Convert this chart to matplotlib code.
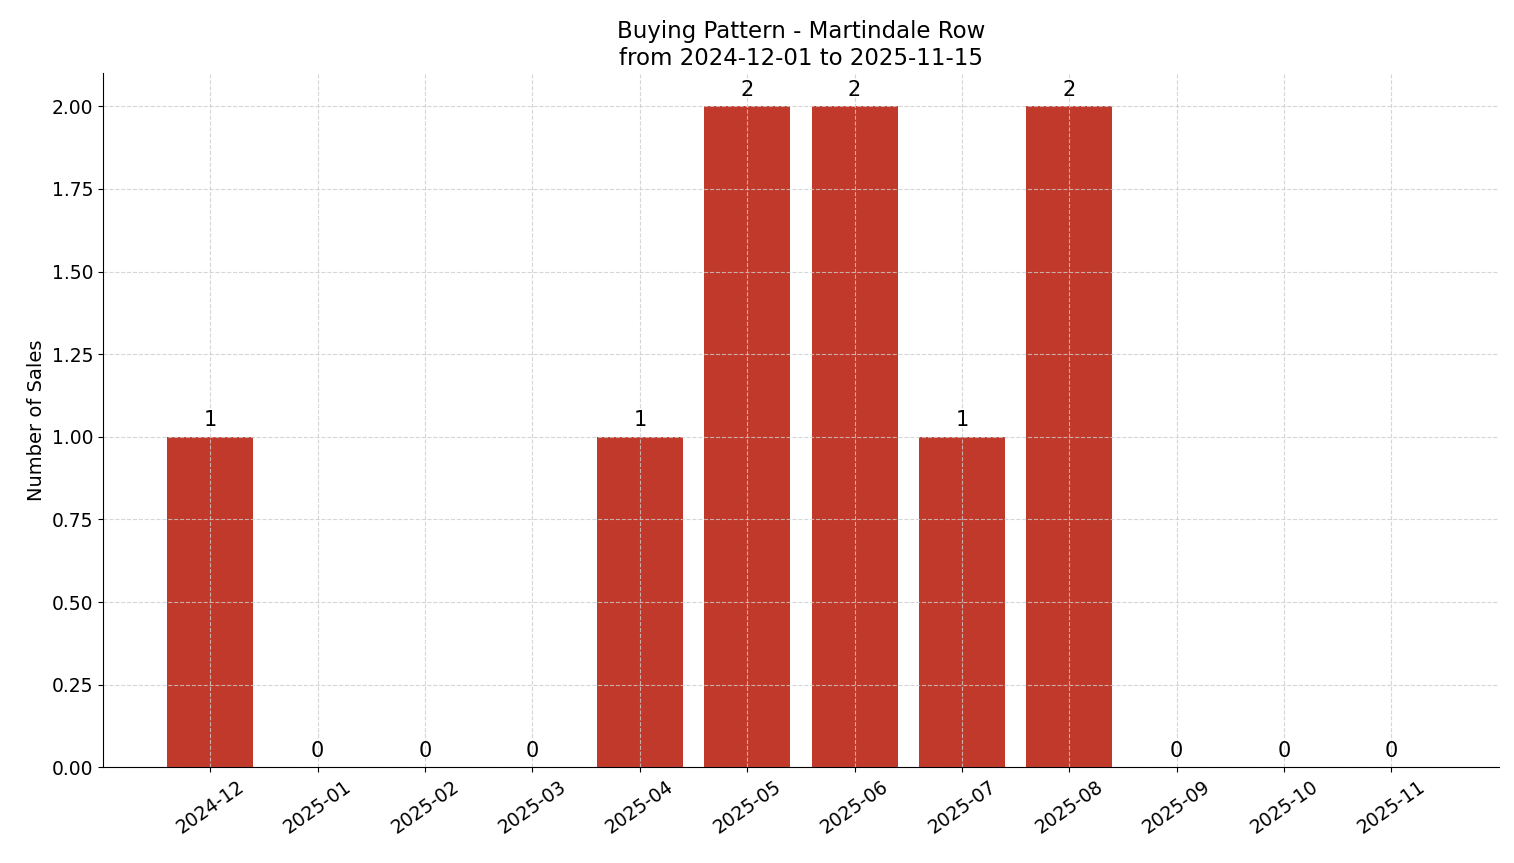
import matplotlib
matplotlib.use("Agg")
import matplotlib.pyplot as plt

months = ["2024-12", "2025-01", "2025-02", "2025-03", "2025-04", "2025-05",
          "2025-06", "2025-07", "2025-08", "2025-09", "2025-10", "2025-11"]
sales = [1, 0, 0, 0, 1, 2, 2, 1, 2, 0, 0, 0]

fig, ax = plt.subplots(figsize=(15.14, 8.63), dpi=100)
x = range(len(months))
bars = ax.bar(x, sales, width=0.8, color="#c0392b")
for b, v in zip(bars, sales):
    ax.text(b.get_x() + b.get_width() / 2, v + 0.02, str(v),
            ha="center", va="bottom", fontsize=15)

ax.set_xticks(list(x))
ax.set_xticklabels(months, rotation=35, fontsize=13.5)
ax.tick_params(axis="y", labelsize=13.5)
ax.set_xlim(-1, 12)
ax.set_ylim(0, 2.1)
ax.set_ylabel("Number of Sales", fontsize=14)
ax.set_title("Buying Pattern - Martindale Row\nfrom 2024-12-01 to 2025-11-15", fontsize=16.5)
ax.grid(True, linestyle="--", color="#cccccc", alpha=0.8, linewidth=0.8)
ax.spines["top"].set_visible(False)
ax.spines["right"].set_visible(False)

fig.subplots_adjust(left=0.068, right=0.99, top=0.915, bottom=0.111)
fig.savefig("out.png")
